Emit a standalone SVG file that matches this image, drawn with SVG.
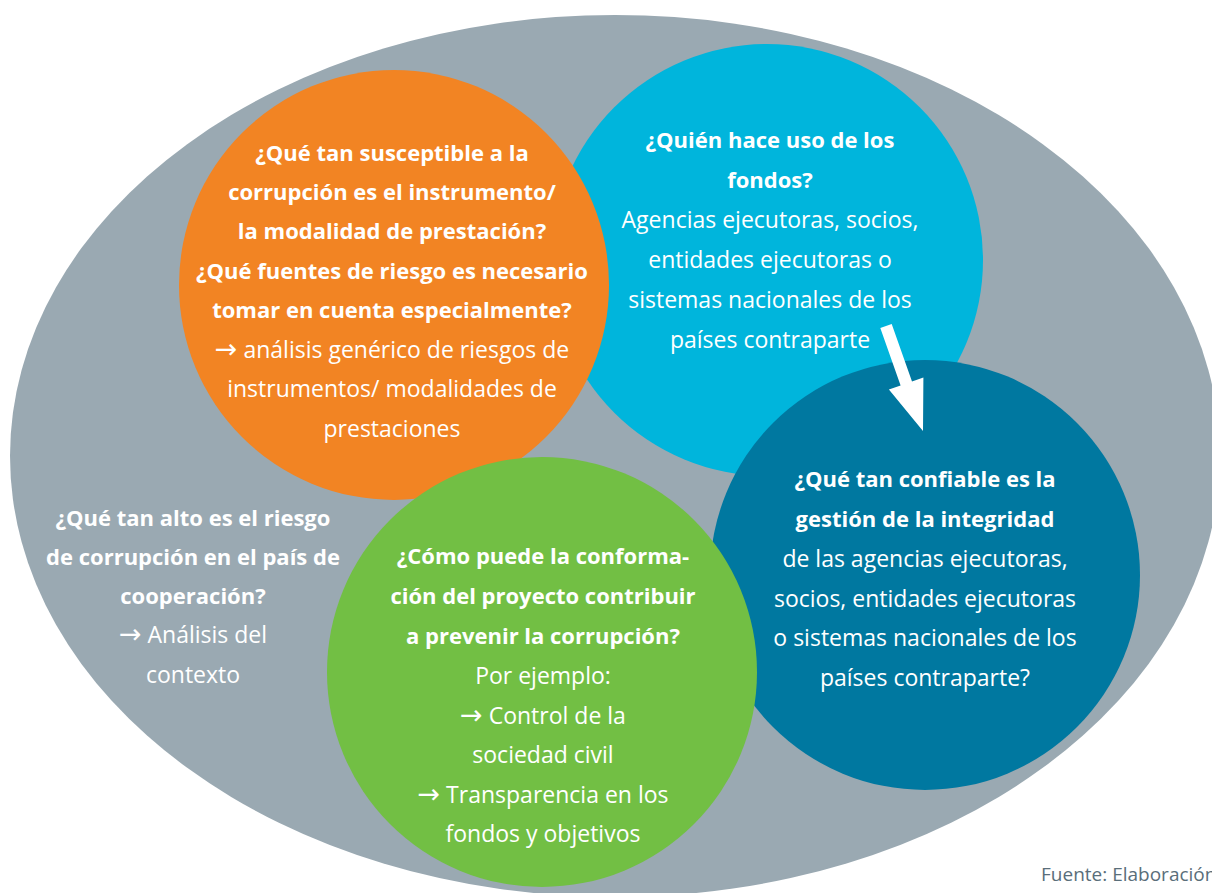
<svg xmlns="http://www.w3.org/2000/svg" width="1212" height="893" viewBox="0 0 1212 893">
<style>
text{font-family:"Open Sans","Noto Sans","Liberation Sans",sans-serif;font-size:23px;fill:#fff;text-anchor:middle}
.b{font-weight:bold;font-size:22px}
.ar{font-family:"DejaVu Sans",sans-serif;font-size:27px}
.src{fill:#5a6e7a;font-size:19px;text-anchor:start}
</style>
<rect width="1212" height="893" fill="#fff"/>
<g id="context">
<ellipse cx="615" cy="456" rx="605" ry="441" fill="#9aa9b2"/>
<text class="b" x="193" y="526">¿Qué tan alto es el riesgo</text>
<text class="b" x="193" y="565">de corrupción en el país de</text>
<text class="b" x="193" y="604">cooperación?</text>
<text x="193" y="643"><tspan class="ar">→</tspan> Análisis del</text>
<text x="193" y="683">contexto</text>
</g>
<g id="fondos">
<circle cx="767" cy="260" r="216" fill="#00b5dc"/>
<text class="b" x="770" y="148">¿Quién hace uso de los</text>
<text class="b" x="770" y="188">fondos?</text>
<text x="770" y="228">Agencias ejecutoras, socios,</text>
<text x="770" y="268">entidades ejecutoras o</text>
<text x="770" y="308">sistemas nacionales de los</text>
<text x="770" y="348">países contraparte</text>
</g>
<g id="instrumento">
<circle cx="394" cy="285" r="215" fill="#f28423"/>
<text class="b" x="392" y="161">¿Qué tan susceptible a la</text>
<text class="b" x="392" y="200">corrupción es el instrumento/</text>
<text class="b" x="392" y="239">la modalidad de prestación?</text>
<text class="b" x="392" y="279">¿Qué fuentes de riesgo es necesario</text>
<text class="b" x="392" y="318">tomar en cuenta especialmente?</text>
<text x="392" y="358"><tspan class="ar">→</tspan> análisis genérico de riesgos de</text>
<text x="392" y="397">instrumentos/ modalidades de</text>
<text x="392" y="437">prestaciones</text>
</g>
<g id="integridad">
<circle cx="925" cy="575" r="215" fill="#0078a0"/>
<text class="b" x="925" y="487">¿Qué tan confiable es la</text>
<text class="b" x="925" y="527">gestión de la integridad</text>
<text x="925" y="567">de las agencias ejecutoras,</text>
<text x="925" y="607">socios, entidades ejecutoras</text>
<text x="925" y="646">o sistemas nacionales de los</text>
<text x="925" y="686">países contraparte?</text>
</g>
<g id="proyecto">
<circle cx="542" cy="672" r="215" fill="#72bf44"/>
<text class="b" x="543" y="564">¿Cómo puede la conforma-</text>
<text class="b" x="543" y="604">ción del proyecto contribuir</text>
<text class="b" x="543" y="644">a prevenir la corrupción?</text>
<text x="543" y="684">Por ejemplo:</text>
<text x="543" y="724"><tspan class="ar">→</tspan> Control de la</text>
<text x="543" y="763">sociedad civil</text>
<text x="543" y="803"><tspan class="ar">→</tspan> Transparencia en los</text>
<text x="543" y="842">fondos y objetivos</text>
</g>
<g id="connectors">
<polygon points="891.7,324 912,381.5 923.4,377.4 923,431 888.9,389.6 900.6,385.5 880.3,328" fill="#fff"/>
</g>
<text class="src" x="1041" y="881">Fuente: Elaboración</text>
</svg>
